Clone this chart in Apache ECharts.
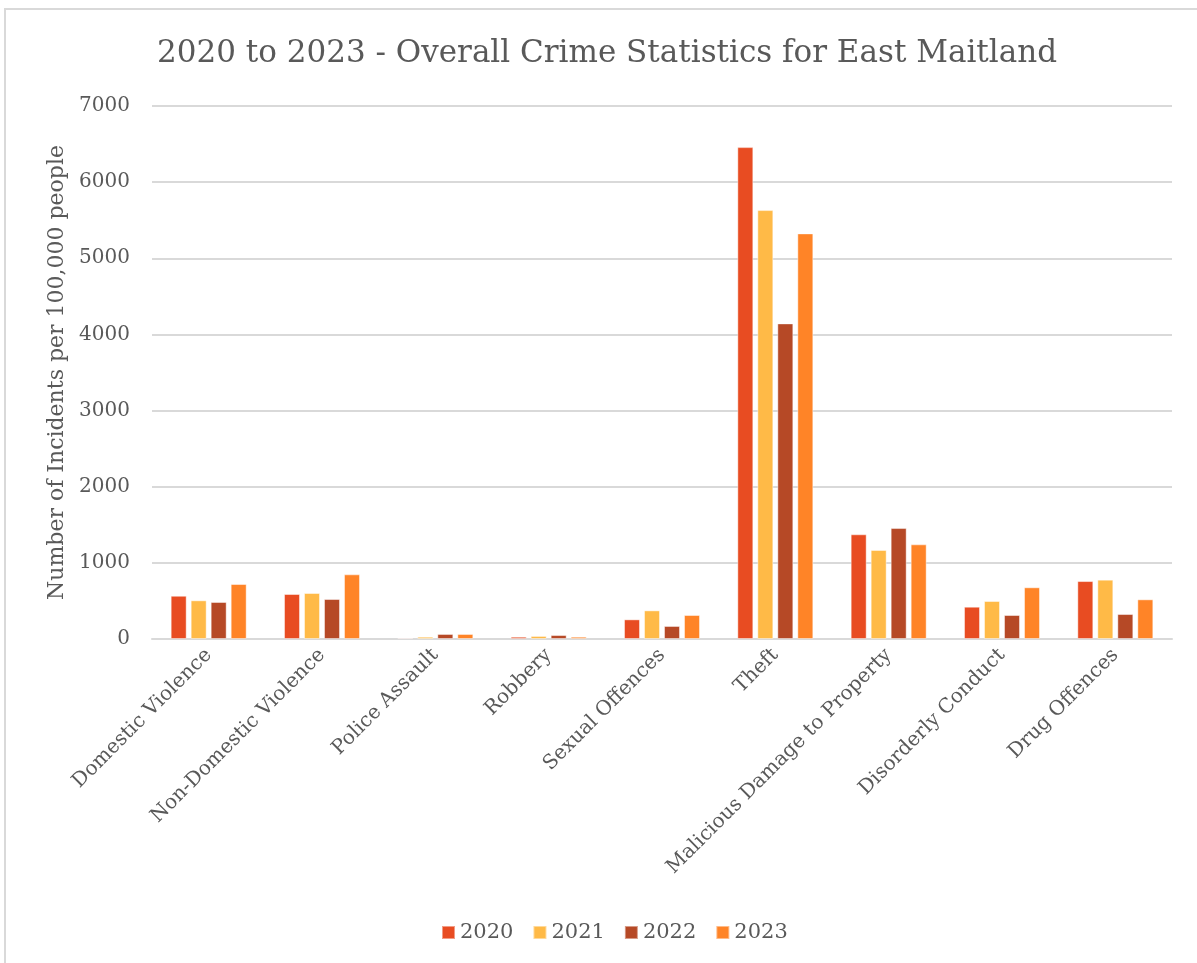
<!DOCTYPE html>
<html>
<head>
<meta charset="utf-8">
<script src="https://cdn.jsdelivr.net/npm/echarts@6/dist/echarts.min.js"></script>
<style>
  html, body { margin: 0; padding: 0; background: #fff; }
  #main { width: 1197px; height: 963px; }
</style>
</head>
<body>
<div id="main"></div>
<script>
// categories + values per year
var categories = ['Domestic Violence', 'Non-Domestic Violence', 'Police Assault', 'Robbery',
    'Sexual Offences', 'Theft', 'Malicious Damage to Property', 'Disorderly Conduct', 'Drug Offences'];
var years = ['2020', '2021', '2022', '2023'];
var data2020 = [568, 591, 15, 30, 258, 6460, 1375, 424, 761];
var data2021 = [508, 604, 30, 40, 376, 5633, 1169, 499, 779];
var data2022 = [486, 525, 66, 52, 171, 4145, 1457, 315, 328];
var data2023 = [722, 849, 66, 30, 315, 5327, 1243, 679, 521];
var colors = ['#E84C22', '#FFBA47', '#B64926', '#FF8427'];

var FONT = 'DejaVu Serif';
var TEXT = '#595959';

var chart = echarts.init(document.getElementById('main'));

function bar(name, values, i) {
    return {
        name: name,
        type: 'bar',
        data: values,
        barWidth: 16,
        barGap: '25%',
        itemStyle: {
            color: colors[i],
            borderColor: 'rgba(255,255,255,0.45)',
            borderWidth: 1
        }
    };
}

var option = {
    animation: false,
    color: colors,
    title: {
        text: '2020 to 2023 - Overall Crime Statistics for East Maitland',
        left: 602,
        textAlign: 'center',
        top: 33,
        textStyle: { fontFamily: FONT, fontSize: 31, fontWeight: 'normal', color: TEXT }
    },
    legend: {
        data: years,
        bottom: 15,
        left: 436,
        itemWidth: 13,
        itemHeight: 13,
        itemGap: 19,
        icon: 'rect',
        textStyle: { fontFamily: FONT, fontSize: 21, color: TEXT }
    },
    grid: { left: 152, right: 25, top: 106, bottom: 324 },
    xAxis: {
        type: 'category',
        data: categories,
        axisLine: { lineStyle: { color: '#d9d9d9', width: 2 } },
        axisTick: { show: false },
        axisLabel: {
            rotate: 45,
            interval: 0,
            margin: 13,
            fontFamily: FONT,
            fontSize: 20,
            color: TEXT
        }
    },
    yAxis: {
        type: 'value',
        min: 0,
        max: 7000,
        interval: 1000,
        name: 'Number of Incidents per 100,000 people',
        nameLocation: 'middle',
        nameRotate: 90,
        nameGap: 84,
        nameTextStyle: { fontFamily: FONT, fontSize: 22, color: TEXT },
        axisLine: { show: false },
        axisTick: { show: false },
        splitLine: { lineStyle: { color: '#d9d9d9', width: 2 } },
        axisLabel: {
            margin: 22,
            fontFamily: FONT,
            fontSize: 20,
            color: TEXT,
            formatter: function (v) { return String(v); }
        }
    },
    graphic: [{
        type: 'rect',
        shape: { x: 5, y: 9, width: 1300, height: 1000 },
        style: { fill: 'none', stroke: '#d9d9d9', lineWidth: 2 },
        silent: true
    }],
    series: [
        bar(years[0], data2020, 0),
        bar(years[1], data2021, 1),
        bar(years[2], data2022, 2),
        bar(years[3], data2023, 3)
    ]
};

chart.setOption(option);
</script>
</body>
</html>
